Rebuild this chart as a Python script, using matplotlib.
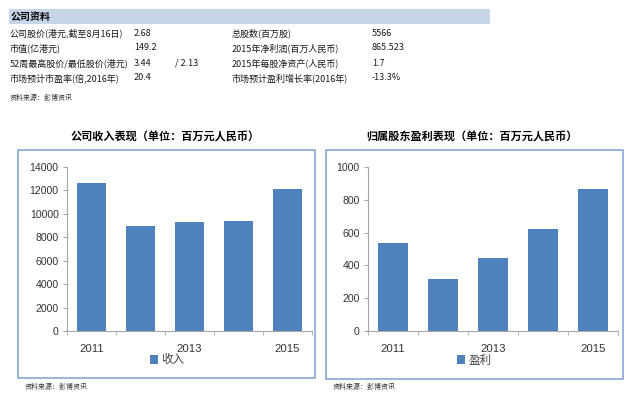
import matplotlib
matplotlib.use('Agg')
import matplotlib.pyplot as plt
from matplotlib.patches import Rectangle
from matplotlib.ticker import FixedLocator

plt.rcParams['font.family'] = ['Liberation Sans', 'Noto Sans CJK SC', 'DejaVu Sans']

# company info table
info_left = ['公司股价(港元,截至8月16日)', '市值(亿港元)', '52周最高股价/最低股价(港元)', '市场预计市盈率(倍,2016年)']
info_left_val = ['2.68', '149.2', '3.44', '20.4']
info_left_extra = ['', '', '/ 2.13', '']
info_right = ['总股数(百万股)', '2015年净利润(百万人民币)', '2015年每股净资产(人民币)', '市场预计盈利增长率(2016年)']
info_right_val = ['5566', '865.523', '1.7', '-13.3%']

years = ['2011', '2012', '2013', '2014', '2015']
revenue = [12650, 9000, 9300, 9350, 12100]
profit = [535, 315, 445, 620, 865.5]

bar_color = '#4f81bd'
frame_color = '#7f9fd0'
axis_color = '#a6a6a6'
W, H = 640, 396

fig = plt.figure(figsize=(6.4, 3.96), dpi=100)


def fx(px):
    return px / W


def fy(py):
    return 1 - py / H


cjk = ['Noto Sans CJK SC', 'DejaVu Sans']

# header bar
fig.patches.append(Rectangle((fx(9), fy(24)), fx(481), 15 / H, transform=fig.transFigure,
                             facecolor='#c6d5e8', edgecolor='none'))
fig.text(fx(11), fy(16.5), '公司资料', fontsize=7.2, fontweight='bold', family=cjk, va='center')

row_y = [33, 48, 63, 78]
for i in range(4):
    y = fy(row_y[i])
    fig.text(fx(10), y, info_left[i], fontsize=6.5, family=cjk, va='center', color='#1a1a1a')
    fig.text(fx(134), y, info_left_val[i], fontsize=6.5, family=cjk, va='center', color='#1a1a1a')
    fig.text(fx(175), y, info_left_extra[i], fontsize=6.5, family=cjk, va='center', color='#1a1a1a')
    fig.text(fx(232), y, info_right[i], fontsize=6.5, family=cjk, va='center', color='#1a1a1a')
    fig.text(fx(372), y, info_right_val[i], fontsize=6.5, family=cjk, va='center', color='#1a1a1a')
fig.text(fx(10), fy(98), '资料来源：彭博资讯', fontsize=5, family=cjk, style='italic',
         va='center', color='#333333')


def bar_panel(x0, x1, frame, title, title_x, values, ymax, ystep, label, leg_x):
    # frame around chart
    fig.patches.append(Rectangle((fx(frame[0]), fy(frame[3])), fx(frame[2] - frame[0]),
                                 (frame[3] - frame[1]) / H, transform=fig.transFigure,
                                 facecolor='none', edgecolor=frame_color, lw=1.1))
    fig.text(fx(title_x), fy(137), title, fontsize=8, fontweight='bold', family=cjk,
             ha='center', va='center')
    ax = fig.add_axes([fx(x0), fy(331), fx(x1 - x0), 164 / H])
    ax.bar(range(len(years)), values, width=0.6, color=bar_color, label=label)
    ax.set_xlim(-0.5, len(years) - 0.5)
    ax.set_ylim(0, ymax)
    ax.set_yticks(range(0, ymax + 1, ystep))
    ax.set_xticks([0, 2, 4])
    ax.set_xticklabels([years[0], years[2], years[4]])
    ax.xaxis.set_minor_locator(FixedLocator([i - 0.5 for i in range(len(years) + 1)]))
    ax.tick_params(axis='x', which='major', length=0, pad=9, labelsize=8.2, colors='#333333')
    ax.tick_params(axis='x', which='minor', length=3, color=axis_color, direction='out')
    ax.tick_params(axis='y', length=3, color=axis_color, direction='out', labelsize=7.6,
                   labelcolor='#333333', pad=3)
    for s in ['top', 'right']:
        ax.spines[s].set_visible(False)
    for s in ['left', 'bottom']:
        ax.spines[s].set_color(axis_color)
        ax.spines[s].set_linewidth(0.8)
    ax.set_facecolor('none')
    leg = ax.legend(loc='center left', bbox_to_anchor=(fx(leg_x), fy(360)),
                    bbox_transform=fig.transFigure, frameon=False, borderpad=0,
                    borderaxespad=0, handlelength=0.7, handleheight=0.7,
                    handletextpad=0.3, prop={'family': cjk, 'size': 8.3})
    for t in leg.get_texts():
        t.set_color('#444444')
    fig.text(fx(frame[0] + 7), fy(387), '资料来源：彭博资讯', fontsize=5, family=cjk,
             style='italic', va='center', color='#333333')
    return ax


bar_panel(67, 312, (18, 150, 315, 378), '公司收入表现（单位：百万元人民币）', 165,
          revenue, 14000, 2000, '收入', 150)
bar_panel(368, 618, (326, 150, 623, 379), '归属股东盈利表现（单位：百万元人民币）', 472,
          profit, 1000, 200, '盈利', 457)

fig.savefig('out.png', dpi=100)
